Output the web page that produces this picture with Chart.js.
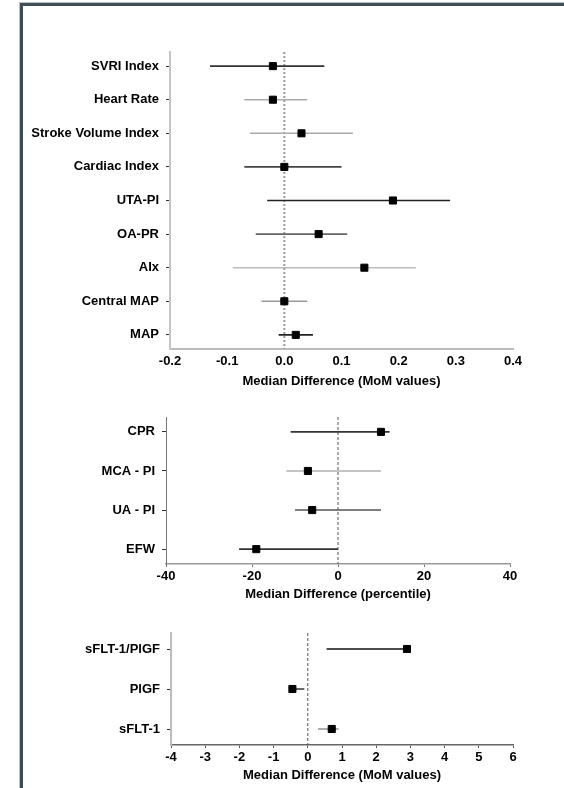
<!DOCTYPE html>
<html>
<head>
<meta charset="utf-8">
<script src="https://cdn.jsdelivr.net/npm/chart.js@4"></script>
<style>
  html, body { margin: 0; padding: 0; background: #fff; }
  body { width: 564px; height: 788px; position: relative; overflow: hidden; }
  .frame { position: absolute; left: 20px; top: 3px; width: 560px; height: 800px;
           border-left: 3px solid #3e4d57; border-top: 3px solid #3e4d57; box-shadow: -1px -1px 0 #b9c2c8; }
  canvas { position: absolute; left: 0; }
</style>
</head>
<body>
<div class="frame"></div>
<canvas id="c1" width="564" height="400" style="top:0px"></canvas>
<canvas id="c2" width="564" height="210" style="top:400px"></canvas>
<canvas id="c3" width="564" height="178" style="top:610px"></canvas>
<script>
// ---------- Panel 1: maternal haemodynamics (MoM values) ----------
const p1Labels = ["SVRI Index", "Heart Rate", "Stroke Volume Index", "Cardiac Index", "UTA-PI", "OA-PR", "AIx", "Central MAP", "MAP"];
const p1Median = [-0.02, -0.02, 0.03, 0.00, 0.19, 0.06, 0.14, 0.00, 0.02];
const p1Lower  = [-0.13, -0.07, -0.06, -0.07, -0.03, -0.05, -0.09, -0.04, -0.01];
const p1Upper  = [0.07, 0.04, 0.12, 0.10, 0.29, 0.11, 0.23, 0.04, 0.05];
const p1Ticks  = [-0.2, -0.1, 0.0, 0.1, 0.2, 0.3, 0.4];
const p1Title  = "Median Difference (MoM values)";

// ---------- Panel 2: fetal Doppler / growth (percentile) ----------
const p2Labels = ["CPR", "MCA - PI", "UA - PI", "EFW"];
const p2Median = [10, -7, -6, -19];
const p2Lower  = [-11, -12, -10, -23];
const p2Upper  = [12, 10, 10, 0];
const p2Ticks  = [-40, -20, 0, 20, 40];
const p2Title  = "Median Difference (percentile)";

// ---------- Panel 3: angiogenic markers (MoM values) ----------
const p3Labels = ["sFLT-1/PlGF", "PlGF", "sFLT-1"];
const p3Median = [2.9, -0.45, 0.7];
const p3Lower  = [0.55, -0.55, 0.3];
const p3Upper  = [3.0, -0.1, 0.9];
const p3Ticks  = [-4, -3, -2, -1, 0, 1, 2, 3, 4, 5, 6];
const p3Title  = "Median Difference (MoM values)";

// ---------- styles (kept apart from data) ----------
const p1Colors = ["#333", "#aaa", "#aaa", "#444", "#222", "#666", "#bbb", "#999", "#222"];
const p2Colors = ["#333", "#b0b0b0", "#555", "#333"];
const p3Colors = ["#111", "#444", "#999"];

Chart.defaults.font.family = "'Liberation Sans', Arial, sans-serif";
Chart.defaults.color = "#000";

function forest(id, o) {
  const n = o.labels.length;
  const datasets = [];
  // median squares (on top)
  datasets.push({
    type: 'scatter', order: 0,
    data: o.median.map((v, i) => ({ x: v, y: i + 1 })),
    pointStyle: 'rect', pointRadius: 5, pointHoverRadius: 5,
    backgroundColor: '#000', borderColor: '#000', borderWidth: 1
  });
  // interval lines
  o.median.forEach((_, i) => {
    datasets.push({
      type: 'scatter', order: 1, showLine: true,
      data: [{ x: o.lower[i], y: i + 1 }, { x: o.upper[i], y: i + 1 }],
      borderColor: o.colors[i], borderWidth: 1.6, pointRadius: 0, pointHoverRadius: 0
    });
  });
  // zero reference line
  datasets.push({
    type: 'scatter', order: 2, showLine: true,
    data: [{ x: 0, y: o.yMin }, { x: 0, y: o.yMax }],
    borderColor: o.zeroColor, borderWidth: o.zeroWidth, borderDash: o.zeroDash,
    pointRadius: 0, pointHoverRadius: 0
  });

  new Chart(document.getElementById(id), {
    type: 'scatter',
    data: { datasets },
    options: {
      responsive: false, animation: false,
      layout: { padding: o.pad },
      plugins: { legend: { display: false }, tooltip: { enabled: false } },
      scales: {
        x: {
          type: 'linear', min: o.ticks[0], max: o.ticks[o.ticks.length - 1],
          afterBuildTicks: s => { s.ticks = o.ticks.map(v => ({ value: v })); },
          afterFit: s => { s.height = o.xHeight; },
          ticks: { callback: o.fmt, font: { size: 13, weight: 'bold' }, color: '#000', padding: 2, maxRotation: 0, autoSkip: false },
          grid: { drawOnChartArea: false, drawTicks: true, tickLength: 3, tickColor: o.xTickColor },
          border: { display: true, color: o.xAxisColor, width: o.xAxisWidth },
          title: { display: true, text: o.title, font: { size: 13, weight: 'bold' }, color: '#000', padding: 0 }
        },
        y: {
          type: 'linear', min: o.yMin, max: o.yMax, reverse: true,
          afterBuildTicks: s => { s.ticks = o.labels.map((_, i) => ({ value: i + 1 })); },
          afterFit: s => { s.width = o.yWidth; },
          ticks: { callback: v => o.labels[Math.round(v) - 1] || '', font: { size: 13, weight: 'bold' }, color: '#000', padding: 7, autoSkip: false },
          grid: { drawOnChartArea: false, drawTicks: true, tickLength: 4, tickColor: '#333' },
          border: { display: true, color: o.yAxisColor, width: o.yAxisWidth }
        }
      }
    }
  });
}

forest('c1', {
  labels: p1Labels, median: p1Median, lower: p1Lower, upper: p1Upper, colors: p1Colors,
  ticks: p1Ticks, fmt: v => Number(v).toFixed(1), title: p1Title,
  yMin: 0.58, yMax: 9.42,
  pad: { top: 52, left: 0, right: 51, bottom: 11 }, yWidth: 170, xHeight: 40,
  zeroColor: '#999', zeroWidth: 2, zeroDash: [2, 2],
  xTickColor: 'rgba(0,0,0,0)', xAxisColor: '#bbb', xAxisWidth: 2, yAxisColor: '#c4c4c4', yAxisWidth: 2
});

forest('c2', {
  labels: p2Labels, median: p2Median, lower: p2Lower, upper: p2Upper, colors: p2Colors,
  ticks: p2Ticks, fmt: v => String(v), title: p2Title,
  yMin: 0.62, yMax: 4.38,
  pad: { top: 17, left: 0, right: 54, bottom: 8 }, yWidth: 166, xHeight: 38,
  zeroColor: '#555', zeroWidth: 1, zeroDash: [3, 2],
  xTickColor: '#777', xAxisColor: '#999', xAxisWidth: 1.5, yAxisColor: '#777', yAxisWidth: 1
});

forest('c3', {
  labels: p3Labels, median: p3Median, lower: p3Lower, upper: p3Upper, colors: p3Colors,
  ticks: p3Ticks, fmt: v => String(v), title: p3Title,
  yMin: 0.6, yMax: 3.4,
  pad: { top: 23, left: 0, right: 51, bottom: 5 }, yWidth: 171, xHeight: 38,
  zeroColor: '#555', zeroWidth: 1, zeroDash: [3, 2],
  xTickColor: '#555', xAxisColor: '#666', xAxisWidth: 1.5, yAxisColor: '#bbb', yAxisWidth: 2
});
</script>
</body>
</html>
